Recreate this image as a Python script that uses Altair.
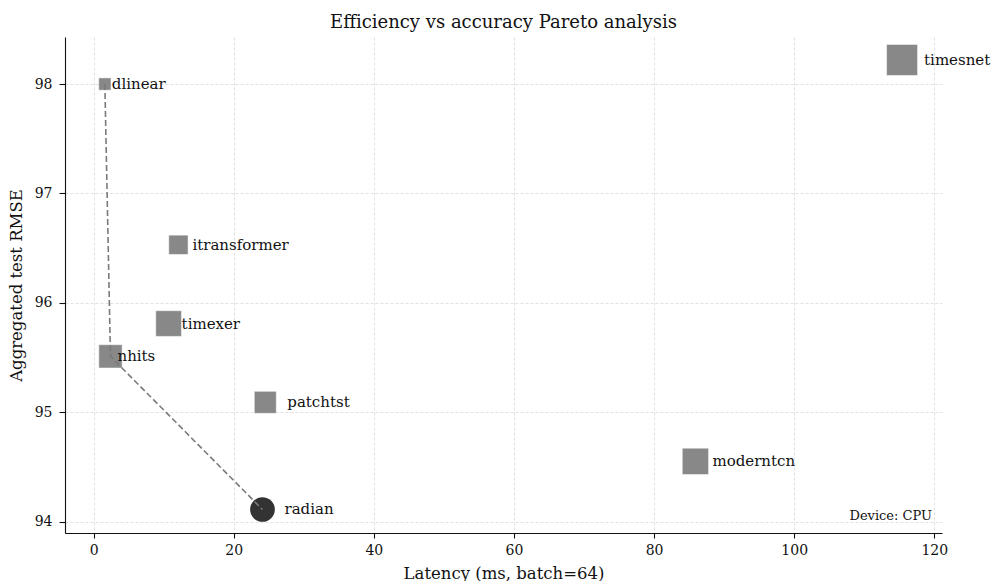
import altair as alt
import pandas as pd

# Benchmark results: inference latency vs aggregated test error
models = ["dlinear", "timesnet", "itransformer", "timexer", "nhits", "patchtst", "moderntcn", "radian"]
latency_ms = [1.6, 115.4, 12.1, 10.7, 2.4, 24.5, 85.9, 24.1]
test_rmse = [98.00, 98.22, 96.53, 95.81, 95.51, 95.09, 94.55, 94.11]
marker_kind = ["square", "square", "square", "square", "square", "square", "square", "circle"]

# Marker side (px) and label offsets (px) used for drawing
marker_side = [12.3, 31.0, 19.3, 25.7, 23.3, 22.0, 26.3, 24.7]
label_dx = [7, 22, 14, 13, 7, 22, 17, 22]

# Models on the Pareto front, in latency order
pareto_models = ["dlinear", "nhits", "radian"]

FONT = "DejaVu Serif"

df = pd.DataFrame({
    "model": models,
    "latency": latency_ms,
    "rmse": test_rmse,
    "kind": marker_kind,
    "area": [s * s for s in marker_side],
    "dx": label_dx,
})
front = df[df["model"].isin(pareto_models)].copy()
front["order"] = [pareto_models.index(m) for m in front["model"]]

x_scale = alt.Scale(domain=[-4.09, 121.1], nice=False, zero=False)
y_scale = alt.Scale(domain=[93.895, 98.43], nice=False, zero=False)

x_enc = alt.X("latency:Q", scale=x_scale,
              axis=alt.Axis(title="Latency (ms, batch=64)", values=[0, 20, 40, 60, 80, 100, 120]))
y_enc = alt.Y("rmse:Q", scale=y_scale,
              axis=alt.Axis(title="Aggregated test RMSE", values=[94, 95, 96, 97, 98]))

base = alt.Chart(df)

squares = base.transform_filter(alt.datum.kind == "square").mark_point(
    shape="square", filled=True, color="#888888", opacity=1, stroke="white", strokeWidth=0.5
).encode(x=x_enc, y=y_enc, size=alt.Size("area:Q", scale=None, legend=None))

circles = base.transform_filter(alt.datum.kind == "circle").mark_point(
    shape="circle", filled=True, color="#333333", opacity=1
).encode(x=x_enc, y=y_enc, size=alt.Size("area:Q", scale=None, legend=None))

front_line = alt.Chart(front).mark_line(
    color="#7a7a7a", strokeDash=[6, 3], strokeWidth=1.6
).encode(x=x_enc, y=y_enc, order="order:Q")

# One text layer per label offset
label_layers = [
    base.transform_filter(alt.datum.dx == d).mark_text(
        align="left", baseline="middle", dx=d, font=FONT, fontSize=15, color="#111111"
    ).encode(x=x_enc, y=y_enc, text="model:N")
    for d in sorted(set(label_dx))
]

device_note = alt.Chart(pd.DataFrame({"t": ["Device: CPU"]})).mark_text(
    align="right", baseline="middle", font=FONT, fontSize=13, color="#111111"
).encode(x=alt.value(867), y=alt.value(479), text="t:N")

chart = alt.layer(squares, circles, front_line, *label_layers, device_note).properties(
    width=877,
    height=496,
    title=alt.TitleParams("Efficiency vs accuracy Pareto analysis", font=FONT, fontSize=18,
                          fontWeight="normal", color="#111111", offset=5),
    autosize=alt.AutoSizeParams(type="none"),
    padding={"left": 65, "top": 37, "right": 49, "bottom": 48},
).configure_view(stroke=None).configure_axis(
    labelFont=FONT, titleFont=FONT, labelFontSize=14, titleFontSize=16.5,
    titleFontWeight="normal", labelColor="#111111", titleColor="#111111",
    domainColor="#111111", domainWidth=1.1, tickColor="#111111", tickSize=5, tickWidth=1.1,
    gridColor="#d9d9d9", gridDash=[3, 2], gridWidth=0.8, labelPadding=5,
).configure_axisX(titlePadding=8).configure_axisY(titlePadding=9.5, labelPadding=7, tickSize=6)

chart.save("out.html", embed_options={"renderer": "svg", "actions": False})
